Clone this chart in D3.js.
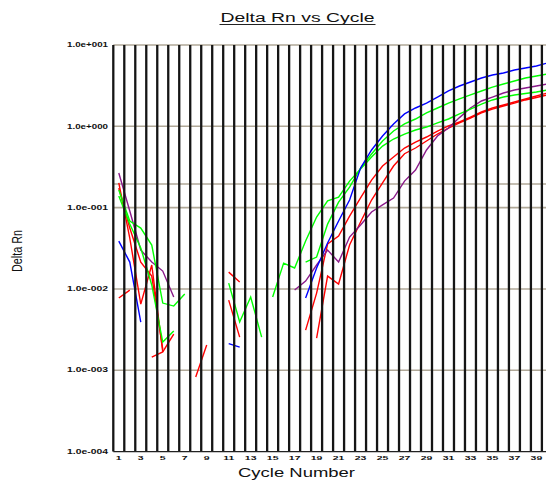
<!DOCTYPE html>
<html>
<head>
<meta charset="utf-8">
<script src="https://cdn.jsdelivr.net/npm/d3@7"></script>
<style>
  html, body { margin: 0; padding: 0; background: #ffffff; }
  svg { display: block; font-family: "Liberation Sans", Arial, sans-serif; }
</style>
</head>
<body>
<div id="chart"></div>
<script>
// ---------- data ----------
const cycles = [1,2,3,4,5,6,7,8,9,10,11,12,13,14,15,16,17,18,19,20,
                21,22,23,24,25,26,27,28,29,30,31,32,33,34,35,36,37,38,39,40];

const xTickLabels = [1,3,5,7,9,11,13,15,17,19,21,23,25,27,29,31,33,35,37,39];
const yTickValues = [10, 1, 0.1, 0.01, 0.001, 0.0001];
const yTickLabels = ["1.0e+001","1.0e+000","1.0e-001","1.0e-002","1.0e-003","1.0e-004"];
const thresholdValue = 0.195;

const blueSeries = [0.0388,0.0214,0.00392,null,null,null,null,null,null,null,
  0.00213,0.00193,null,null,null,null,null,0.00773,0.0181,0.0367,
  0.0685,0.124,0.307,0.512,0.76,1.07,1.42,1.68,1.93,2.29,
  2.72,3.13,3.51,3.93,4.27,4.53,4.93,5.21,5.52,6.01];

const greenSeriesA = [0.165,0.0684,0.0561,0.0347,0.00671,0.00616,0.00865,null,null,null,
  null,null,null,null,0.00795,0.0208,0.0181,0.0388,0.0766,0.121,
  0.135,0.212,0.298,0.419,0.572,0.698,0.804,0.90,0.98,1.10,
  1.23,1.42,1.63,1.88,2.11,2.29,2.43,2.53,2.64,2.80];

const greenSeriesB = [0.139,0.0628,0.0319,0.0112,0.00222,0.00304,null,null,null,null,
  0.0118,0.00392,0.00795,0.00256,null,null,null,0.0214,0.0247,0.0628,
  0.117,0.179,0.307,0.456,0.66,0.875,1.07,1.23,1.46,1.68,
  1.93,2.17,2.43,2.72,3.04,3.31,3.61,3.93,4.16,4.40];

const purpleSeries = [0.267,0.0908,0.0301,0.0214,0.0166,0.00795,null,null,null,null,
  null,null,null,null,null,null,0.00969,0.0125,0.0197,0.0301,
  0.0214,0.0435,0.0611,0.0883,0.108,0.131,0.212,0.29,0.512,0.76,
  0.953,1.28,1.68,2.05,2.29,2.57,2.80,2.96,3.13,3.31];

const redSeriesA = [0.201,0.0423,0.00652,0.0197,0.00168,null,null,0.000825,0.00204,null,
  0.0161,0.0122,null,null,null,null,null,0.00312,0.0089,0.0357,
  0.0447,0.0788,0.132,0.2185,0.325,0.419,0.541,0.641,0.739,0.875,
  1.01,1.13,1.30,1.50,1.68,1.83,1.99,2.17,2.36,2.57];

const redSeriesB = [0.174,0.0561,0.0214,0.0144,0.00182,null,null,null,null,null,
  0.0073,0.00256,null,null,null,null,null,null,0.00249,0.0144,
  0.0115,0.0347,0.0665,0.124,0.201,0.325,0.46,0.541,0.66,0.804,
  0.953,1.10,1.265,1.46,1.63,1.78,1.93,2.11,2.26,2.43];

const redSeriesC = [0.00773,0.00969,null,0.00145,0.00168,0.00279,null,null,null,null,
  null,null,null,null,null,null,null,null,null,null,
  null,null,null,null,null,null,null,null,null,null,
  null,null,null,null,null,null,null,null,null,null];

const seriesList = [
  {values: redSeriesC,   color: "#ff0000"},
  {values: redSeriesB,   color: "#ff0000"},
  {values: redSeriesA,   color: "#ff0000"},
  {values: purpleSeries, color: "#8b1a8b"},
  {values: greenSeriesB, color: "#00ff00"},
  {values: greenSeriesA, color: "#00ff00"},
  {values: blueSeries,   color: "#0000ff"}
];

// ---------- chart ----------
const W = 546, H = 481;
const svg = d3.select("#chart").append("svg").attr("width", W).attr("height", H);

const x = d3.scaleLinear().domain([0.5, 39.5]).range([113.3, 541.9]);
const y = d3.scaleLog().domain([1e-4, 10]).range([451.6, 45]);
const plotRight = 546;

// title
svg.append("text")
  .attr("x", 297.5).attr("y", 22)
  .attr("text-anchor", "middle")
  .attr("font-size", 12)
  .attr("textLength", 154).attr("lengthAdjust", "spacingAndGlyphs")
  .attr("fill", "#111")
  .text("Delta Rn vs Cycle");
svg.append("line")
  .attr("x1", 219.5).attr("x2", 375.5).attr("y1", 24.5).attr("y2", 24.5)
  .attr("stroke", "#222").attr("stroke-width", 1.2);

// horizontal gridlines
const hGrid = svg.append("g");
hGrid.selectAll("line.h").data(yTickValues.slice(0, 5).concat([thresholdValue]))
  .join("line")
  .attr("x1", x(0.5)).attr("x2", plotRight)
  .attr("y1", d => y(d)).attr("y2", d => y(d))
  .attr("stroke", "#b0a898").attr("stroke-width", 1.6);

// curves
const line = d3.line()
  .defined(d => d.v !== null)
  .x(d => x(d.c))
  .y(d => y(d.v));

const curveG = svg.append("g");
seriesList.forEach(s => {
  const pts = cycles.map((c, i) => ({c: c, v: s.values[i]}));
  curveG.append("path")
    .attr("d", line(pts))
    .attr("fill", "none")
    .attr("stroke", s.color)
    .attr("stroke-width", 1.4);
});

// vertical gridlines (drawn on top)
const vLines = d3.range(0.5, 40, 1);
svg.append("g").selectAll("line")
  .data(vLines).join("line")
  .attr("x1", d => x(d)).attr("x2", d => x(d))
  .attr("y1", y(10)).attr("y2", y(1e-4))
  .attr("stroke", "#151515").attr("stroke-width", 2.3);

// bottom axis line
svg.append("line")
  .attr("x1", x(0.5)).attr("x2", plotRight)
  .attr("y1", y(1e-4)).attr("y2", y(1e-4))
  .attr("stroke", "#222").attr("stroke-width", 1.3);

// y tick labels
svg.append("g").selectAll("text")
  .data(yTickValues).join("text")
  .attr("x", 108).attr("y", d => y(d) + 2.2)
  .attr("text-anchor", "end")
  .attr("font-size", 6.5).attr("font-weight", "bold")
  .attr("textLength", 41).attr("lengthAdjust", "spacingAndGlyphs")
  .attr("fill", "#111")
  .text((d, i) => yTickLabels[i]);

// x tick labels
svg.append("g").selectAll("g")
  .data(xTickLabels).join("g")
  .attr("transform", d => `translate(${x(d)},460) scale(1.5,0.8)`)
  .append("text")
  .attr("text-anchor", "middle")
  .attr("font-size", 7).attr("font-weight", "bold")
  .attr("fill", "#111")
  .text(d => d);

// axis titles
svg.append("text")
  .attr("x", 296.5).attr("y", 477)
  .attr("text-anchor", "middle")
  .attr("font-size", 12)
  .attr("textLength", 117).attr("lengthAdjust", "spacingAndGlyphs")
  .attr("fill", "#111")
  .text("Cycle Number");

svg.append("text")
  .attr("transform", "translate(22,251) rotate(-90)")
  .attr("text-anchor", "middle")
  .attr("font-size", 14)
  .attr("textLength", 42).attr("lengthAdjust", "spacingAndGlyphs")
  .attr("fill", "#111")
  .text("Delta Rn");
</script>
</body>
</html>
